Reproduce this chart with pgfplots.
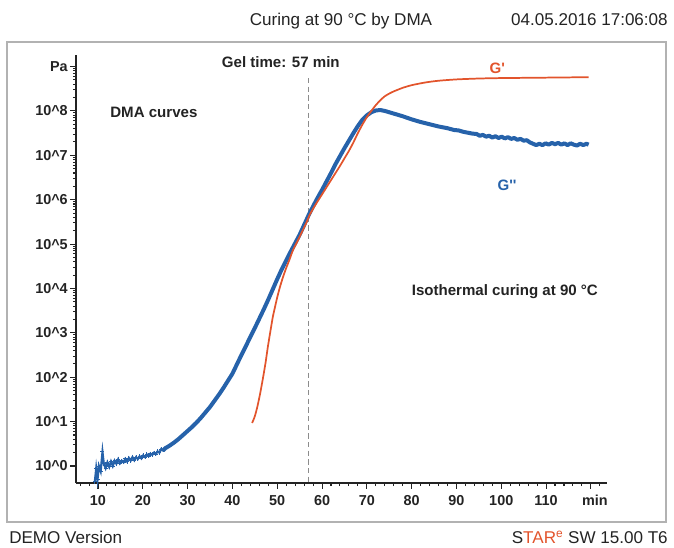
\documentclass[border=0pt]{standalone}
\usepackage{pgfplots}
\pgfplotsset{compat=1.18}
\usepackage{fontspec}
\setmainfont{Liberation Sans}[Ligatures=TeXOff]
\definecolor{gblue}{RGB}{38,98,170}
\definecolor{gred}{RGB}{226,84,44}
\definecolor{txt}{RGB}{35,35,35}

\begin{document}
\begin{tikzpicture}[x=0.75pt,y=0.75pt]
\path (0,0) rectangle (674,547);
\draw[black!30, line width=0.9pt] (7,25) rectangle (666,505);
\node[anchor=base, font=\fontsize{12.8}{14}\selectfont, text=txt, inner sep=0pt] at (341,521) {Curing at 90 °C by DMA};
\node[anchor=base east, font=\fontsize{12.8}{14}\selectfont, text=txt, inner sep=0pt] at (668,521) {04.05.2016 17:06:08};
\node[anchor=base west, font=\fontsize{12.8}{14}\selectfont, text=txt, inner sep=0pt] at (9,4) {DEMO Version};
\node[anchor=base east, font=\fontsize{12.8}{14}\selectfont, text=txt, inner sep=0pt] at (668,4) {S\textcolor{gred}{TAR\textsuperscript{e}} SW 15.00 T6};

\begin{axis}[
  at={(57pt,48pt)}, anchor=south west,
  scale only axis, width=398.25pt, height=321pt,
  xmin=5.09, xmax=123.6,
  ymode=log, ymin=0.414, ymax=1.82e9,
  axis x line*=bottom, axis y line*=left,
  axis line style={-, draw=txt, line width=1pt},
  xtick={10,20,...,120},
  xticklabels={10,20,30,40,50,60,70,80,90,100,110,\hspace*{6pt}min},
  minor xtick={6,8,...,122},
  ytick={1,10,100,1000,1e4,1e5,1e6,1e7,1e8,1e9},
  yticklabels={10\textasciicircum0,10\textasciicircum1,10\textasciicircum2,10\textasciicircum3,10\textasciicircum4,10\textasciicircum5,10\textasciicircum6,10\textasciicircum7,10\textasciicircum8,Pa},
  tick align=outside,
  major tick length=4.5pt, minor tick length=2.3pt,
  tick style={draw=txt, line width=0.8pt},
  ticklabel style={font=\bfseries\fontsize{10.8}{12}\selectfont, text=txt},
  yticklabel style={inner xsep=1.5pt},
  xticklabel style={yshift=-1pt},
  clip=false,
]
\addplot[black!45, line width=0.8pt, dash pattern=on 4pt off 2.5pt] coordinates {(57,5.5e8) (57,0.414)};

% G'' noisy start
\addplot[gblue, line width=1.6pt, mark=+, mark size=1.5pt, mark options={line width=0.7pt}] coordinates {
(9.3,0.447) (9.6,0.891) (9.9,0.501) (10.2,1.000) (10.6,0.759) (11.0,2.089) (11.3,1.122)
(11.7,0.891) (12.1,1.202) (12.5,0.955) (12.9,1.259) (13.3,1.000) (13.7,1.318) (14.1,1.122)
(14.5,1.413) (14.9,1.148) (15.3,1.318) (15.7,1.202) (16.1,1.445) (16.5,1.259) (16.9,1.514)
(17.3,1.318) (17.7,1.585) (18.1,1.349) (18.5,1.585) (18.9,1.445) (19.3,1.660) (19.7,1.479)
(20.1,1.738) (20.5,1.585) (20.9,1.820) (21.3,1.660) (21.7,1.905) (22.1,1.778) (22.5,1.995)
(22.9,1.862) (23.3,2.138) (23.7,1.995) (24.1,2.399) (24.5,2.239) (25,2.512)
};
% G'' main
\addplot[gblue, line width=3pt, line join=round] coordinates {
(24.5,2.239) (25,2.512) (26,2.884) (27,3.388) (28,4.074) (29,5.012) (30,6.166) (31,7.586)
(32,9.550) (33,12.30) (34,16.22) (35,21.38) (36,29.51) (37,40.74) (38,57.54) (39,83.18)
(40,120.2) (41,195.0) (42,316.2) (43,501.2) (44,812.8) (45,1288) (46,2089) (47,3388)
(48,5623) (49,9550) (50,16220) (51,26920) (52,42660) (53,67610) (54,1.047e5) (55,1.622e5)
(56,2.692e5) (57,4.467e5) (58,7.079e5) (59,1.096e6) (60,1.660e6) (61,2.570e6) (62,3.981e6)
(63,6.310e6) (64,9.550e6) (65,1.445e7) (66,2.138e7) (67,3.162e7) (68,4.571e7) (69,6.310e7)
(70,7.943e7) (71,9.333e7) (72,1.023e8) (73,1.047e8) (74,1.000e8) (75,9.333e7) (76,8.710e7)
(78,7.586e7) (80,6.457e7) (82,5.623e7) (84,5.012e7) (86,4.467e7) (88,4.074e7) (89.5,3.715e7)
(90.5,3.631e7) (91.5,3.388e7) (92.5,3.236e7) (93.5,3.090e7) (94.5,3.020e7) (95.2,2.754e7)
(95.9,2.884e7) (96.6,2.630e7) (97.3,2.754e7) (98,2.512e7) (98.7,2.692e7) (99.4,2.455e7)
(100.1,2.630e7) (100.8,2.399e7) (101.5,2.570e7) (102.2,2.344e7) (102.9,2.455e7) (103.6,2.239e7)
(104.3,2.344e7) (105,2.138e7) (105.7,2.188e7) (106.4,1.950e7) (107.1,1.820e7) (107.8,1.698e7)
(108.5,1.820e7) (109.2,1.698e7) (109.9,1.862e7) (110.6,1.738e7) (111.3,1.905e7) (112,1.778e7)
(112.7,1.905e7) (113.4,1.738e7) (114.1,1.862e7) (114.8,1.698e7) (115.5,1.862e7) (116.2,1.738e7)
(116.9,1.660e7) (117.6,1.820e7) (118.3,1.698e7) (119,1.820e7) (119.5,1.738e7)
};
% G'
\addplot[gred, line width=1.3pt, smooth, tension=0.4] coordinates {
(44.4,9.333) (45.0,13.18) (45.6,22.39) (46.2,43.65) (46.8,93.33) (47.4,213.8) (47.9,478.6)
(48.5,1122) (49.0,2239) (49.5,3802) (50.0,6310) (50.6,10720) (51.3,18200) (52.0,28840)
(52.7,43650) (53.5,72440) (54.5,1.148e5) (55.5,1.862e5) (56.5,3.020e5) (57.3,4.677e5)
(58.5,7.586e5) (60,1.318e6) (61,1.905e6) (62,2.754e6) (63,3.981e6) (64,5.754e6) (65,8.511e6)
(66,1.259e7) (67,1.950e7) (68,3.162e7) (69,4.898e7) (70,7.244e7) (71,1.000e8) (72,1.349e8)
(73,1.738e8) (74,2.138e8) (75,2.455e8) (76,2.754e8) (78,3.311e8) (80,3.802e8) (83,4.365e8)
(86,4.786e8) (90,5.129e8) (95,5.370e8) (100,5.495e8) (110,5.623e8) (119.5,5.754e8)
};

\node[font=\bfseries\fontsize{11.3}{13}\selectfont, text=txt] at (axis cs:50.8,1.26e9) {Gel time: 57 min};
\node[anchor=west, font=\bfseries\fontsize{11.3}{13}\selectfont, text=txt, inner sep=0pt] at (axis cs:12.7,9.3e7) {DMA curves};
\node[font=\bfseries\fontsize{11.3}{13}\selectfont, text=gred] at (axis cs:99.1,9.1e8) {G'};
\node[font=\bfseries\fontsize{11.3}{13}\selectfont, text=gblue] at (axis cs:101.3,2.14e6) {G''};
\node[font=\bfseries\fontsize{11.3}{13}\selectfont, text=txt] at (axis cs:100.8,8.7e3) {Isothermal curing at 90 °C};
\end{axis}
\end{tikzpicture}
\end{document}
